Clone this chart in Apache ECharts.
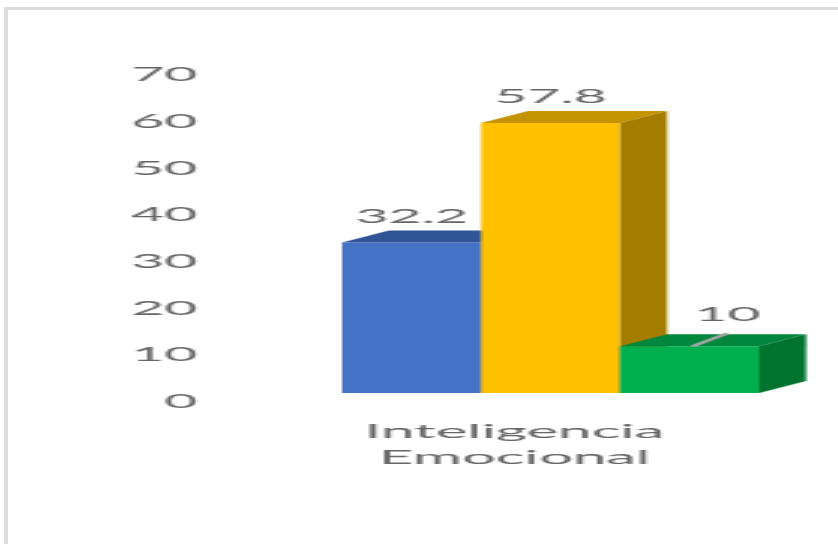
<!DOCTYPE html>
<html>
<head>
<meta charset="utf-8">
<script src="https://cdn.jsdelivr.net/npm/echarts@6/dist/echarts.min.js"></script>
<style>
  html, body { margin: 0; padding: 0; background: #fff; overflow: hidden; }
  #frame {
    position: absolute; left: 4px; top: 7px; width: 860px; height: 560px;
    border-left: 4px solid #dcdcdc; border-top: 3px solid #dcdcdc;
  }
  /* the reference picture is stretched sideways, so the chart is drawn narrow and scaled on x */
  #chart {
    position: absolute; left: 0; top: 0; height: 544px;
    transform-origin: 0 0;
  }
</style>
</head>
<body>
<div id="frame"></div>
<div id="chart"></div>
<script>
// data
const categories = ['Inteligencia Emocional'];
const values = [32.2, 57.8, 10];

// colours per bar: front, top, side
const frontColors = ['#4472C4', '#FFC000', '#00B050'];
const topColors = ['#2F5597', '#C49400', '#00873D'];
const sideColors = ['#2A4F8C', '#A47C00', '#00732F'];

const SX = 3;              // horizontal stretch of the reference
const px = x => x / SX;    // reference x pixels -> chart pixels

const chartDom = document.getElementById('chart');
chartDom.style.width = (838 / SX) + 'px';
chartDom.style.transform = 'scaleX(' + SX + ')';

// 3D depth of the bars
const DX = px(47);
const DY = -12;
// label moved off the bar (green one has a leader line in the reference)
const labelShift = [[0, 0], [0, 0], [px(38), -5]];

const textColor = '#666666';
const font = 'Lato, "Open Sans", sans-serif';

function renderBar(params, api) {
  const cat = api.value(0);
  const v = api.value(1);
  const slot = api.value(2);
  const base = api.coord([cat, 0]);
  const top = api.coord([cat, v]);
  const band = api.size([1, 0])[0];
  const w = band / values.length;
  const x0 = base[0] - band / 2 + slot * w;
  const x1 = x0 + w;
  const yb = base[1];
  const yt = top[1];
  const cx = (x0 + x1) / 2;

  const shift = labelShift[slot];
  const lx = cx + shift[0];
  const ly = yt + DY - 14 + shift[1];

  const children = [
    { type: 'rect', shape: { x: x0, y: yt, width: w, height: yb - yt }, style: { fill: frontColors[slot] } },
    { type: 'polygon', shape: { points: [[x0, yt], [x0 + DX, yt + DY], [x1 + DX, yt + DY], [x1, yt]] }, style: { fill: topColors[slot] } },
    { type: 'polygon', shape: { points: [[x1, yt], [x1 + DX, yt + DY], [x1 + DX, yb + DY], [x1, yb]] }, style: { fill: sideColors[slot] } },
    {
      type: 'text',
      style: {
        text: String(v), x: lx, y: ly, align: 'center', verticalAlign: 'middle',
        fill: textColor, fontSize: 19, fontFamily: font
      }
    }
  ];
  if (shift[0] !== 0) {
    children.push({
      type: 'line',
      shape: { x1: cx + px(3), y1: yt, x2: lx, y2: ly + 18 },
      style: { stroke: '#a6a6a6', lineWidth: 2 }
    });
  }
  return { type: 'group', children: children };
}

const myChart = echarts.init(chartDom);
const option = {
  animation: false,
  grid: { left: px(342), right: px(838 - 760), top: 66, bottom: 544 - 393 },
  xAxis: {
    type: 'category',
    data: categories,
    axisLine: { show: false },
    axisTick: { show: false },
    axisLabel: {
      formatter: s => s.replace(' ', '\n'),
      color: textColor, fontSize: 20, fontFamily: font,
      lineHeight: 26, margin: 26,
      padding: [0, px(72), 0, 0]
    }
  },
  yAxis: {
    type: 'value',
    min: 0, max: 70, interval: 10,
    axisLine: { show: false },
    axisTick: { show: false },
    splitLine: { show: false },
    axisLabel: {
      color: textColor, fontSize: 19, fontFamily: font,
      verticalAlign: 'top', lineHeight: 18,
      margin: px(342 - 197)
    }
  },
  series: [{
    type: 'custom',
    renderItem: renderBar,
    data: values.map((v, i) => [0, v, i])
  }]
};
option && myChart.setOption(option);
</script>
</body>
</html>
